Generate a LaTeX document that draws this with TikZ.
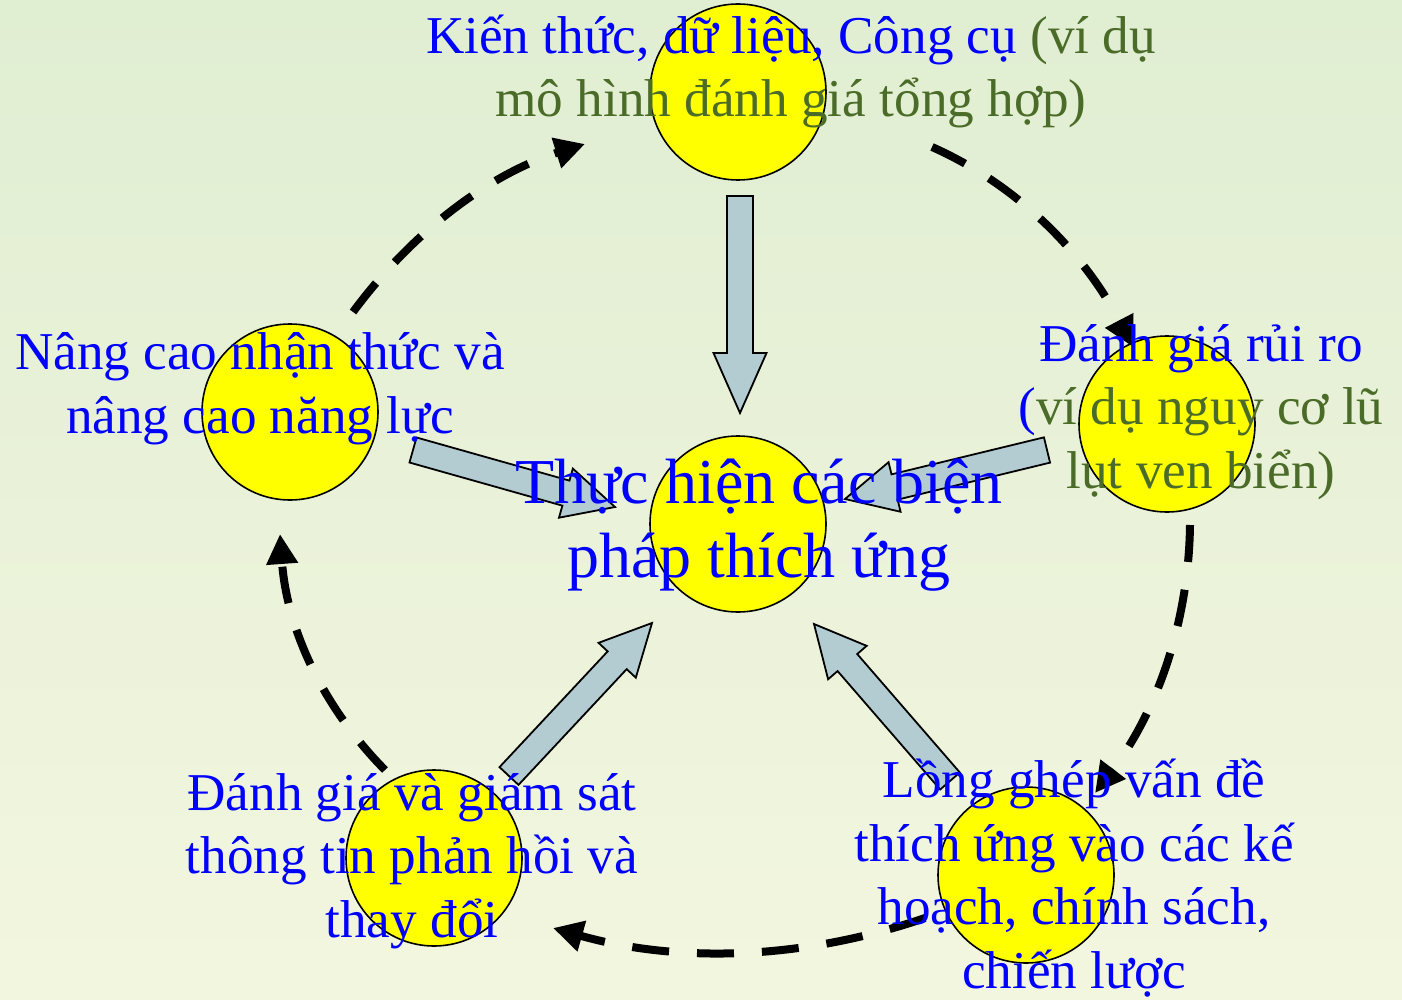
\documentclass[tikz,border=0pt]{standalone}
\usepackage{fontspec}
\setmainfont{Liberation Serif}
\usetikzlibrary{arrows.meta,calc}
\definecolor{bgtop}{RGB}{224,238,210}
\definecolor{bgbot}{RGB}{243,246,223}
\definecolor{vblue}{RGB}{0,0,255}
\definecolor{vgreen}{RGB}{75,108,40}
\definecolor{arrfill}{RGB}{178,204,210}
\definecolor{ballyellow}{RGB}{255,255,0}
% block arrow: start, tip, head length, head half width
\newcommand{\blockarr}[4]{%
  \coordinate (#1h) at ($(#2)!#3!(#1)$);
  \draw[blockarrow] ($(#1)!6.5pt!90:(#2)$) -- ($(#1h)!6.5pt!90:(#2)$) -- ($(#1h)!#4!90:(#2)$) -- (#2)
    -- ($(#1h)!#4!-90:(#2)$) -- ($(#1h)!6.5pt!-90:(#2)$) -- ($(#1)!6.5pt!-90:(#2)$) -- cycle;}
\begin{document}
\begin{tikzpicture}[x=0.5pt,y=-0.5pt,
  ball/.style={circle,draw=black,line width=0.8pt,fill=ballyellow,minimum size=88pt,inner sep=0pt},
  blockarrow/.style={draw=black,line width=0.9pt,fill=arrfill,line join=miter},
  dasharrow/.style={draw=black,line width=4pt,dash pattern=on 18.5pt off 14pt,-{Triangle[length=15pt,width=15pt]}},
  lbl/.style={anchor=base,align=center,inner sep=0pt,text=vblue,font=\fontsize{26.6}{31.75}\selectfont},
  biglbl/.style={anchor=base,align=center,inner sep=0pt,text=vblue,font=\fontsize{32}{37}\selectfont}]
\useasboundingbox (0,0) rectangle (1402,1000);
\shade[top color=bgtop,bottom color=bgbot] (0,0) rectangle (1402,1000);

% circles
\node[ball] (ctop) at (738,92) {};
\node[ball] (cleft) at (290,412) {};
\node[ball] (cright) at (1167,424) {};
\node[ball] (ccenter) at (738,524) {};
\node[ball] (cbl) at (434,858) {};
\node[ball] (cbr) at (1026,875) {};

% block arrow end points
\coordinate (s1) at (740,196); \coordinate (t1) at (740,413);
\coordinate (s2) at (413,450); \coordinate (t2) at (615,507);
\coordinate (s3) at (1047,450); \coordinate (t3) at (845,499);
\coordinate (s4) at (509,776); \coordinate (t4) at (652,623);
\coordinate (s5) at (950,781); \coordinate (t5) at (814,624);
\blockarr{s1}{t1}{30pt}{13.25pt}
\blockarr{s2}{t2}{25.5pt}{12.75pt}
\blockarr{s3}{t3}{25.5pt}{12.75pt}
\blockarr{s4}{t4}{25.5pt}{12.75pt}
\blockarr{s5}{t5}{25.5pt}{12.75pt}

% dashed cycle arrows
\coordinate (a1) at (353,312); \coordinate (a2) at (585,144);
\coordinate (b1) at (932,147); \coordinate (b2) at (1133,347);
\coordinate (c1) at (1190,525); \coordinate (c2) at (1095,793);
\coordinate (d1) at (925,918); \coordinate (d2) at (553,928);
\coordinate (e1) at (385,770); \coordinate (e2) at (280,534);
\draw[dasharrow] (a1) .. controls (414.3,229.3) and (491.7,173.3) .. (a2);
\draw[dasharrow] (b1) .. controls (1016,184.3) and (1083,251) .. (b2);
\draw[dasharrow] (c1) .. controls (1188.7,622.3) and (1157,711.7) .. (c2);
\draw[dasharrow] (d1) .. controls (802.3,960) and (678.3,963.3) .. (d2);
\draw[dasharrow] (e1) .. controls (321.7,706) and (286.7,627.3) .. (e2);

% texts (anchor = baseline of the last line)
\node[lbl] (ttop) at (791,117) {Kiến thức, dữ liệu, Công cụ \textcolor{vgreen}{(ví dụ}\\\textcolor{vgreen}{mô hình đánh giá tổng hợp)}};
\node[lbl] (tleft) at (260,433) {Nâng cao nhận thức và\\nâng cao năng lực};
\node[lbl] (tright) at (1201,488) {Đánh giá rủi ro\\(\textcolor{vgreen}{ví dụ nguy cơ lũ}\\\textcolor{vgreen}{lụt ven biển)}};
\node[lbl] (tbl) at (412,937) {Đánh giá và giám sát\\thông tin phản hồi và\\thay đổi};
\node[lbl] (tbr) at (1074,988) {Lồng ghép vấn đề\\thích ứng vào các kế\\hoạch, chính sách,\\chiến lược};
\node[biglbl] (tcenter) at (759,577) {Thực hiện các biện\\pháp thích ứng};
\end{tikzpicture}
\end{document}
